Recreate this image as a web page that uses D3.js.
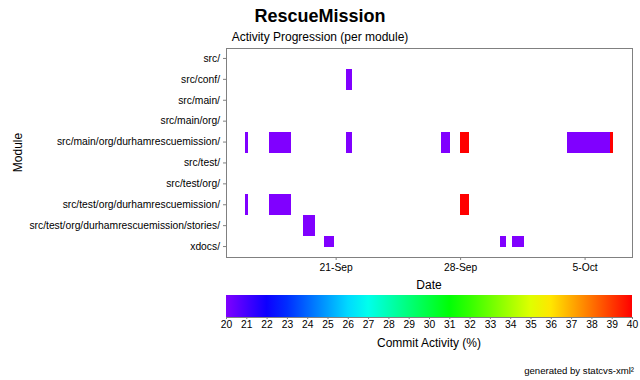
<!DOCTYPE html>
<html><head><meta charset="utf-8">
<script src="https://cdn.jsdelivr.net/npm/d3@7"></script>
<style>body{margin:0;background:#fff}text{font-family:"Liberation Sans",Arial,sans-serif;fill:#000}</style>
</head><body><svg id="c" width="640" height="380"></svg>
<script>
const title = "RescueMission";
const subtitle = "Activity Progression (per module)";
const modules = ["src/","src/conf/","src/main/","src/main/org/","src/main/org/durhamrescuemission/","src/test/","src/test/org/","src/test/org/durhamrescuemission/","src/test/org/durhamrescuemission/stories/","xdocs/"];
const dateDomain = ["2005-09-14T20:00","2005-10-07T16:00"];
const dateTicks = ["2005-09-21T00:00","2005-09-28T00:00","2005-10-05T00:00"];
const barModule = [
 "src/conf/",
 "src/main/org/durhamrescuemission/","src/main/org/durhamrescuemission/","src/main/org/durhamrescuemission/","src/main/org/durhamrescuemission/","src/main/org/durhamrescuemission/","src/main/org/durhamrescuemission/","src/main/org/durhamrescuemission/",
 "src/test/org/durhamrescuemission/","src/test/org/durhamrescuemission/","src/test/org/durhamrescuemission/",
 "src/test/org/durhamrescuemission/stories/",
 "xdocs/","xdocs/","xdocs/"];
const barStart = [
 "2005-09-21T14:00",
 "2005-09-15T21:40","2005-09-17T06:00","2005-09-21T14:00","2005-09-26T22:00","2005-09-28T00:00","2005-10-04T00:00","2005-10-06T10:00",
 "2005-09-15T21:40","2005-09-17T06:00","2005-09-28T00:00",
 "2005-09-19T04:00",
 "2005-09-20T08:10","2005-09-30T05:45","2005-09-30T21:50"];
const barEnd = [
 "2005-09-21T22:00",
 "2005-09-16T01:40","2005-09-18T11:45","2005-09-21T22:00","2005-09-27T10:00","2005-09-28T12:30","2005-10-06T10:00","2005-10-06T14:10",
 "2005-09-16T01:40","2005-09-18T11:45","2005-09-28T12:30",
 "2005-09-19T20:10",
 "2005-09-20T21:36","2005-09-30T13:40","2005-10-01T14:00"];
const barActivity = [20, 20,20,20,20,40,20,40, 20,20,40, 20, 20,20,20];
const legendTicks = d3.range(20, 41, 1);

const svg = d3.select("#c");
const m = {l:226, r:632, t:48, b:257};
const parse = d3.isoParse;
const x = d3.scaleTime().domain(dateDomain.map(parse)).range([m.l, m.r]);
const y = d3.scaleBand().domain(modules).range([m.t, m.b]).padding(0);
const color = v => d3.hsl(270 - (v - 20) / 20 * 270, 1, 0.5).toString();

svg.append("text").attr("x",320).attr("y",22).attr("text-anchor","middle").attr("font-size","18px").attr("font-weight","bold").text(title);
svg.append("text").attr("x",320).attr("y",41).attr("text-anchor","middle").attr("font-size","12px").text(subtitle);

// bars (clipped at the centre of the lowest row, like the original renderer)
const yFloor = y(modules[modules.length-1]) + y.bandwidth()/2;
barModule.forEach((mod,i)=>{
  const x0 = x(parse(barStart[i])), x1 = x(parse(barEnd[i]));
  const y0 = y(mod), y1 = Math.min(y(mod)+y.bandwidth(), yFloor);
  svg.append("rect").attr("x",x0).attr("y",y0).attr("width",Math.max(0,x1-x0)).attr("height",y1-y0)
    .attr("fill",color(barActivity[i])).attr("shape-rendering","crispEdges");
});

// frame
svg.append("rect").attr("x",m.l).attr("y",m.t).attr("width",m.r-m.l).attr("height",m.b-m.t)
  .attr("fill","none").attr("stroke","#808080").attr("stroke-width",1).attr("shape-rendering","crispEdges");

// y axis
const ya = svg.append("g").attr("transform",`translate(${m.l},0)`)
  .call(d3.axisLeft(y).tickSize(3).tickPadding(3));
ya.select(".domain").remove();
ya.selectAll("line").attr("stroke","#808080");
ya.selectAll("text").attr("font-size","10.3px").attr("font-family","Liberation Sans, Arial, sans-serif").attr("fill","#333");

// x axis
const xa = svg.append("g").attr("transform",`translate(0,${m.b})`)
  .call(d3.axisBottom(x).tickValues(dateTicks.map(parse)).tickFormat(d3.timeFormat("%-d-%b")).tickSize(3).tickPadding(4));
xa.select(".domain").remove();
xa.selectAll("line").attr("stroke","#808080");
xa.selectAll("text").attr("font-size","10.3px").attr("font-family","Liberation Sans, Arial, sans-serif").attr("fill","#333");

svg.append("text").attr("x",(m.l+m.r)/2).attr("y",289).attr("text-anchor","middle").attr("font-size","12px").text("Date");
svg.append("text").attr("transform",`translate(22,${(m.t+m.b)/2}) rotate(-90)`).attr("text-anchor","middle").attr("font-size","12px").text("Module");

// legend
const lx = d3.scaleLinear().domain([20,40]).range([m.l, m.r]);
const defs = svg.append("defs");
const grad = defs.append("linearGradient").attr("id","g");
legendTicks.forEach(v=>grad.append("stop").attr("offset",((v-20)/20*100)+"%").attr("stop-color",color(v)));
svg.append("rect").attr("x",m.l).attr("y",295).attr("width",m.r-m.l).attr("height",22).attr("fill","url(#g)");
const la = svg.append("g").attr("transform","translate(0,317)")
  .call(d3.axisBottom(lx).tickValues(legendTicks).tickFormat(d3.format("d")).tickSize(2).tickPadding(2));
la.select(".domain").attr("stroke","#808080");
la.selectAll("line").attr("stroke","#808080");
la.selectAll("text").attr("font-size","10.3px").attr("font-family","Liberation Sans, Arial, sans-serif").attr("fill","#333");
svg.append("text").attr("x",(m.l+m.r)/2).attr("y",347).attr("text-anchor","middle").attr("font-size","12px").text("Commit Activity (%)");

svg.append("text").attr("x",634).attr("y",374).attr("text-anchor","end").attr("font-size","9.6px").text("generated by statcvs-xml²");
</script></body></html>
